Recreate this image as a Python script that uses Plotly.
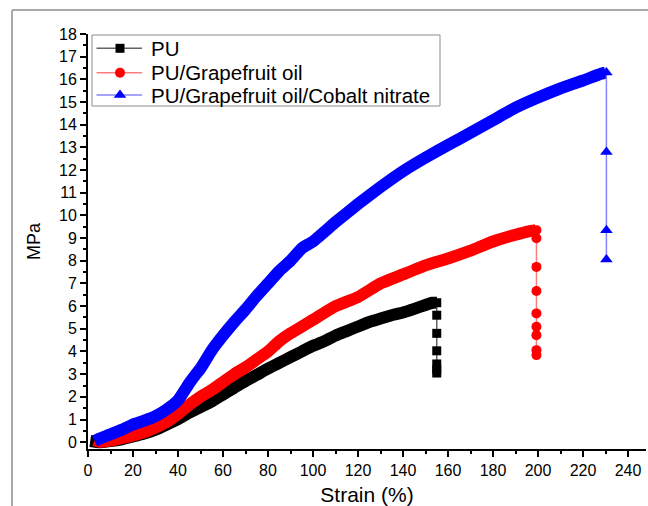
import plotly.graph_objects as go

# ---------------- data ----------------
pu_strain = [1, 5, 10, 15, 20, 25, 30, 35, 40, 45, 50, 55, 60, 65, 70, 75, 80, 85, 90, 95,
             100, 105, 110, 115, 120, 125, 130, 135, 140, 145, 150, 153, 155]
pu_stress = [0.05, 0.0, 0.05, 0.13, 0.25, 0.38, 0.55, 0.78, 1.02, 1.3, 1.55, 1.8, 2.1, 2.4,
             2.7, 2.97, 3.25, 3.5, 3.75, 4.0, 4.25, 4.45, 4.7, 4.9, 5.1, 5.3, 5.45, 5.6, 5.72,
             5.88, 6.05, 6.15, 6.15]
pu_break_strain = [155, 155, 155, 155, 155, 155, 155]
pu_break_stress = [6.15, 5.6, 4.8, 4.03, 3.45, 3.2, 3.05]

gf_strain = [3, 5, 10, 15, 20, 25, 30, 35, 40, 45, 50, 55, 60, 65, 70, 75, 80, 85, 90, 95,
             100, 110, 120, 130, 140, 150, 160, 170, 180, 190, 196, 199]
gf_stress = [0.1, 0.02, 0.07, 0.18, 0.3, 0.45, 0.65, 0.9, 1.25, 1.65, 2.0, 2.3, 2.65, 3.0,
             3.3, 3.65, 4.0, 4.45, 4.8, 5.1, 5.4, 6.0, 6.4, 7.0, 7.4, 7.8, 8.1, 8.45, 8.85,
             9.15, 9.3, 9.35]
gf_break_strain = [199.3] * 9
gf_break_stress = [9.35, 8.99, 7.73, 6.67, 5.68, 5.09, 4.72, 4.06, 3.84]

co_strain = [3, 5, 10, 15, 20, 25, 30, 35, 40, 45, 48, 50, 55, 60, 65, 70, 75, 80, 85, 90,
             95, 100, 110, 120, 130, 140, 150, 160, 170, 180, 190, 200, 210, 220, 228, 230]
co_stress = [0.05, 0.15, 0.35, 0.55, 0.78, 0.95, 1.15, 1.45, 1.85, 2.6, 3.0, 3.25, 4.05,
             4.7, 5.3, 5.85, 6.45, 7.0, 7.55, 8.0, 8.55, 8.85, 9.7, 10.5, 11.25, 11.95, 12.55,
             13.1, 13.65, 14.2, 14.75, 15.2, 15.6, 15.95, 16.25, 16.3]
co_break_strain = [230.4] * 4
co_break_stress = [16.3, 12.8, 9.35, 8.06]

series_names = ["PU", "PU/Grapefruit oil", "PU/Grapefruit oil/Cobalt nitrate"]

x_ticks = list(range(0, 241, 20))
y_ticks = list(range(0, 19))

# ---------------- figure ----------------
fig = go.Figure()

series = [
    (pu_strain, pu_stress, pu_break_strain, pu_break_stress, "#000000", "rgba(60,60,60,0.8)", "square", 9),
    (gf_strain, gf_stress, gf_break_strain, gf_break_stress, "#ff0000", "rgba(255,110,110,0.9)", "circle", 10),
    (co_strain, co_stress, co_break_strain, co_break_stress, "#0000ff", "rgba(120,120,255,0.9)", "triangle-up", 11),
]

# plot area in pixels: x 88..646, y 34..449
L, R, T, B = 88, 646, 34, 449
W, H = 648, 506
pw, ph = R - L, B - T


def px(xp):
    return (xp - L) / pw


def py(yp):
    return (B - yp) / ph


for i, (xs, ys, bx, by, col, lcol, sym, msz) in enumerate(series):
    # thick band made from the densely packed markers of the original
    fig.add_trace(go.Scatter(
        x=xs, y=ys, mode="lines",
        line=dict(color=col, width=12, shape="spline", smoothing=0.4),
        showlegend=False, hoverinfo="skip", cliponaxis=False, name=series_names[i]))
    # sparse points after failure
    fig.add_trace(go.Scatter(
        x=bx, y=by, mode="lines+markers", name=series_names[i],
        line=dict(color=lcol, width=1.5),
        marker=dict(color=col, symbol=sym, size=msz, line=dict(width=0)),
        showlegend=False, cliponaxis=False))

# ---------------- legend drawn in paper space (overlay axes 0..1) ----------------
leg_rows_y = [48.3, 72.7, 95.0]
leg_line_x0, leg_line_x1, leg_marker_x, leg_text_x = 96.5, 142, 120, 149
font_family = "Liberation Sans, Arial, sans-serif"

shapes = [
    # outer frame of the picture (grey)
    dict(type="line", xref="paper", yref="paper", x0=px(12), x1=px(12), y0=py(10), y1=py(W),
         line=dict(color="#a8a8a8", width=2)),
    dict(type="line", xref="paper", yref="paper", x0=px(12), x1=px(W + 5), y0=py(10), y1=py(10),
         line=dict(color="#a8a8a8", width=2)),
    # legend box
    dict(type="rect", xref="paper", yref="paper", x0=px(92), x1=px(440), y0=py(106), y1=py(35),
         line=dict(color="#8a8a8a", width=1), fillcolor="white", layer="below"),
]
annotations = []
for i, (xs, ys, bx, by, col, lcol, sym, msz) in enumerate(series):
    yy = py(leg_rows_y[i])
    shapes.append(dict(type="line", xref="paper", yref="paper", x0=px(leg_line_x0), x1=px(leg_line_x1),
                       y0=yy, y1=yy, line=dict(color=lcol, width=1.5), layer="below"))
    annotations.append(dict(xref="paper", yref="paper", x=px(leg_text_x), y=yy, xanchor="left",
                            yanchor="middle", text=series_names[i], showarrow=False,
                            font=dict(family=font_family, size=20.5, color="black")))
    fig.add_trace(go.Scatter(
        x=[px(leg_marker_x)], y=[yy], xaxis="x2", yaxis="y2", mode="markers",
        marker=dict(color=col, symbol=sym, size=msz, line=dict(width=0)),
        showlegend=False, hoverinfo="skip", cliponaxis=False, name=series_names[i]))

fig.update_layout(
    width=W, height=H,
    margin=dict(l=L, r=W - R, t=T, b=H - B, pad=0),
    paper_bgcolor="white", plot_bgcolor="white",
    font=dict(family=font_family, color="black", size=15),
    shapes=shapes,
    annotations=annotations,
    showlegend=False,
    xaxis=dict(
        range=[0, 248], showline=True, linecolor="black", linewidth=2,
        showgrid=False, zeroline=False, mirror=False,
        tickmode="array", tickvals=x_ticks, ticktext=[str(v) for v in x_ticks],
        ticks="outside", ticklen=6, tickwidth=1.5, tickcolor="black",
        minor=dict(dtick=10, tick0=0, ticks="outside", ticklen=3, tickwidth=1.5, tickcolor="black", showgrid=False),
        tickfont=dict(size=16),
        title=dict(text="Strain (%)", font=dict(size=21), standoff=9),
        automargin=False,
    ),
    yaxis=dict(
        range=[-0.3, 18], showline=True, linecolor="black", linewidth=2,
        showgrid=False, zeroline=False, mirror=False,
        tickmode="array", tickvals=y_ticks, ticktext=[str(v) for v in y_ticks],
        ticks="outside", ticklen=6, tickwidth=1.5, tickcolor="black",
        minor=dict(dtick=0.5, tick0=0, ticks="outside", ticklen=3, tickwidth=1.5, tickcolor="black", showgrid=False),
        tickfont=dict(size=16),
        title=dict(text="MPa", font=dict(size=18), standoff=14),
        automargin=False,
    ),
    xaxis2=dict(overlaying="x", range=[0, 1], visible=False, fixedrange=True),
    yaxis2=dict(overlaying="y", range=[0, 1], visible=False, fixedrange=True),
)

fig.write_html("out.html")
